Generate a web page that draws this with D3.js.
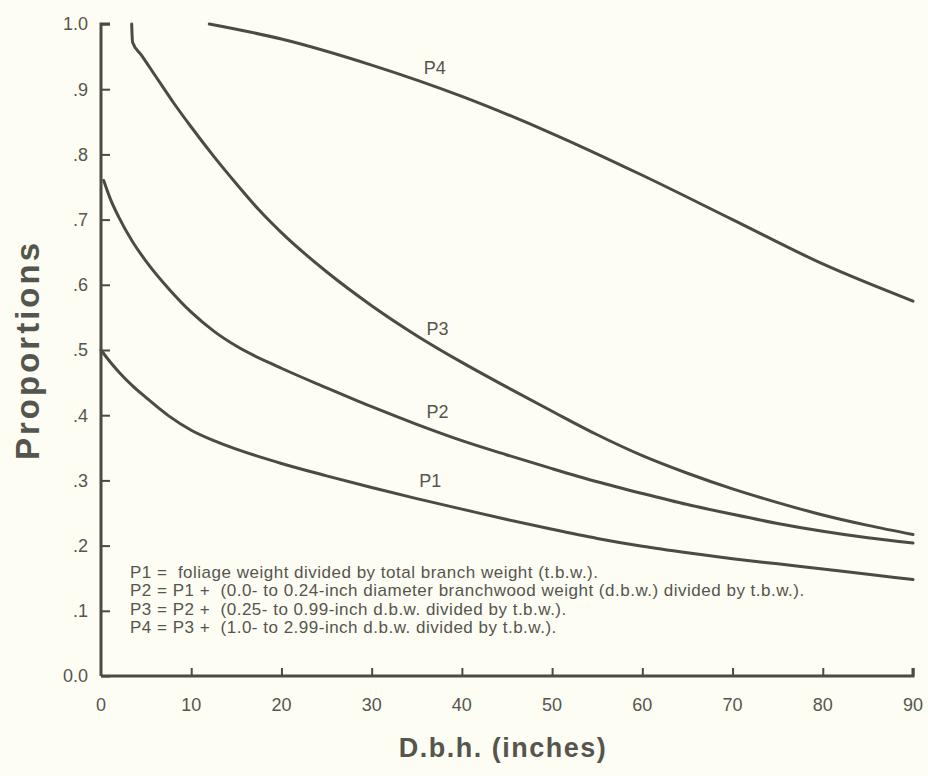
<!DOCTYPE html>
<html>
<head>
<meta charset="utf-8">
<script src="https://cdn.jsdelivr.net/npm/d3@7"></script>
<style>
  html, body { margin: 0; padding: 0; background: #fdfdf3; }
  svg { display: block; }
  text { font-family: "Liberation Sans", Arial, Helvetica, sans-serif; fill: #55554f; }
</style>
</head>
<body>
<svg id="chart" width="928" height="776"></svg>
<script>
// Proportion curves against d.b.h. (inches)
const p1 = [[0,0.500],[1,0.482],[2,0.466],[3.5,0.445],[5,0.427],[7.5,0.399],[10,0.377],[12.5,0.361],[15,0.348],[20,0.326],[25,0.307],[30,0.289],[35,0.272],[40,0.256],[45,0.240],[50,0.225],[55,0.211],[60,0.199],[65,0.189],[70,0.180],[75,0.172],[80,0.164],[85,0.156],[90,0.148]];
const p2 = [[0.3,0.760],[1,0.733],[2,0.703],[3.5,0.666],[5,0.636],[7.5,0.594],[10,0.558],[12.5,0.529],[15,0.506],[20,0.472],[25,0.442],[30,0.413],[35,0.386],[40,0.361],[45,0.339],[50,0.318],[55,0.298],[60,0.280],[65,0.263],[70,0.248],[75,0.234],[80,0.222],[85,0.212],[90,0.204]];
const p3 = [[3.4,1.000],[3.5,0.972],[4.5,0.952],[6,0.921],[8,0.880],[10,0.842],[12.5,0.797],[15,0.755],[17.5,0.715],[20,0.680],[25,0.620],[30,0.568],[35,0.522],[40,0.481],[45,0.443],[50,0.406],[55,0.370],[60,0.338],[65,0.311],[70,0.287],[75,0.266],[80,0.247],[85,0.231],[90,0.217]];
const p4 = [[12,1.000],[20,0.977],[30,0.937],[40,0.889],[50,0.832],[60,0.768],[70,0.700],[80,0.632],[90,0.575]];

const seriesNames = ["P1","P2","P3","P4"];
// where each curve name sits: [d.b.h., proportion]
const seriesLabelAt = [[36.5,0.300],[37.3,0.405],[37.3,0.533],[37.0,0.933]];

const xTicks = [0,10,20,30,40,50,60,70,80,90];
const yTicks = [0,0.1,0.2,0.3,0.4,0.5,0.6,0.7,0.8,0.9,1.0];
const yTickLabels = ["0.0",".1",".2",".3",".4",".5",".6",".7",".8",".9","1.0"];

const legendLines = [
  "P1 =  foliage weight divided by total branch weight (t.b.w.).",
  "P2 = P1 +  (0.0- to 0.24-inch diameter branchwood weight (d.b.w.) divided by t.b.w.).",
  "P3 = P2 +  (0.25- to 0.99-inch d.b.w. divided by t.b.w.).",
  "P4 = P3 +  (1.0- to 2.99-inch d.b.w. divided by t.b.w.)."
];

const xTitle = "D.b.h. (inches)";
const yTitle = "Proportions";

const svg = d3.select("#chart");
const ink = "#4b4b45";

const x = d3.scaleLinear().domain([0, 90]).range([101, 913]);
const y = d3.scaleLinear().domain([0, 1]).range([676, 24]);

// axes
const yAxis = d3.axisRight(y).tickValues(yTicks).tickSize(9).tickFormat("");
const gy = svg.append("g").attr("transform", `translate(${x(0)},0)`).call(yAxis);
const xAxis = d3.axisTop(x).tickValues(xTicks.slice(1)).tickSize(8).tickFormat("");
const gx = svg.append("g").attr("transform", `translate(0,${y(0)})`).call(xAxis);
[gx, gy].forEach(g => {
  g.select(".domain").attr("stroke", ink).attr("stroke-width", 3);
  g.selectAll(".tick line").attr("stroke", ink).attr("stroke-width", 2);
});
gy.select(".domain").attr("d", `M0,${y(0)}V${y(1)}h9`);
gx.select(".domain").attr("d", `M${x(0)},0H${x(90)}v-8`);

// tick labels
svg.append("g").selectAll("text").data(yTicks).join("text")
  .attr("x", 88).attr("y", d => y(d)).attr("dy", "0.35em")
  .attr("text-anchor", "end").attr("font-size", 18)
  .text((d, i) => yTickLabels[i]);

svg.append("g").selectAll("text").data(xTicks).join("text")
  .attr("x", d => x(d)).attr("y", 711)
  .attr("text-anchor", "middle").attr("font-size", 18)
  .text(d => d);

// curves
const line = d3.line().x(d => x(d[0])).y(d => y(d[1])).curve(d3.curveMonotoneX);
svg.append("g").selectAll("path").data([p1, p2, p3, p4]).join("path")
  .attr("d", line)
  .attr("fill", "none").attr("stroke", ink).attr("stroke-width", 3)
  .attr("stroke-linecap", "round").attr("stroke-linejoin", "round");

svg.append("g").selectAll("text").data(seriesNames).join("text")
  .attr("x", (d, i) => x(seriesLabelAt[i][0])).attr("y", (d, i) => y(seriesLabelAt[i][1]))
  .attr("dy", "0.35em").attr("text-anchor", "middle").attr("font-size", 18)
  .text(d => d);

// definitions block
svg.append("g").selectAll("text").data(legendLines).join("text")
  .attr("x", 130).attr("y", (d, i) => 578 + i * 18.4)
  .attr("font-size", 17).attr("letter-spacing", 0.5).style("white-space", "pre")
  .text(d => d);

// axis titles
svg.append("text").attr("x", 503).attr("y", 757)
  .attr("text-anchor", "middle").attr("font-size", 27).attr("font-weight", "bold")
  .attr("letter-spacing", 1.5)
  .text(xTitle);
svg.append("text").attr("transform", "translate(39,350) rotate(-90)")
  .attr("text-anchor", "middle").attr("font-size", 33).attr("font-weight", "bold")
  .attr("letter-spacing", 3)
  .text(yTitle);
</script>
</body>
</html>
